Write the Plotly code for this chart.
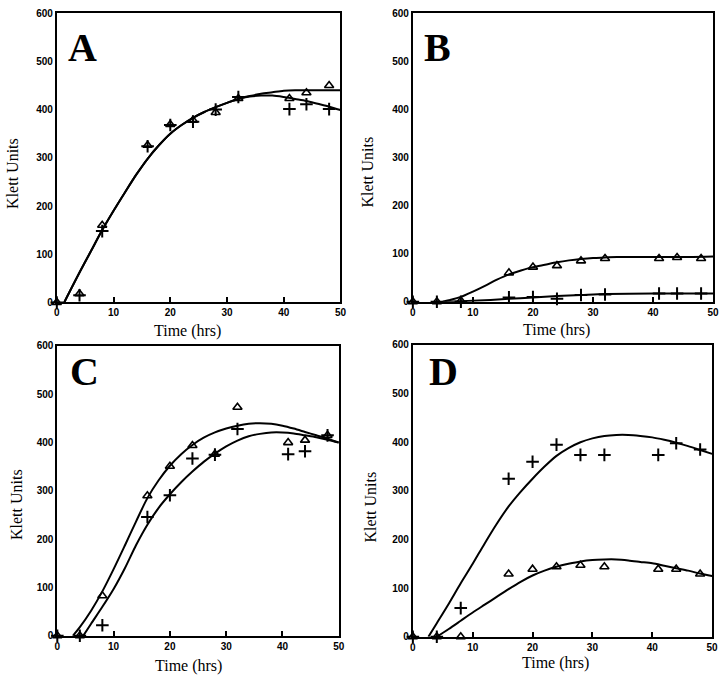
import plotly.graph_objects as go

# ---------------- data ----------------
time_pts = [0, 4, 8, 16, 20, 24, 28, 32, 41, 44, 48]

# Panel A
a_tri = [0, 18, 160, 326, 369, 378, 394, 423, 423, 435, 450]
a_plus = [0, 15, 148, 324, 368, 375, 400, 426, 401, 411, 401]
a_fit_t = [1.3, 4, 6, 8, 10, 12, 14, 16, 18, 20, 22, 24, 26, 28, 30, 32, 34, 36, 38, 40, 42, 44, 46, 48, 50]
a_tri_fit = [0, 62, 106, 150, 190, 228, 265, 298, 326, 350, 368, 383, 395, 405, 414, 422, 428, 433, 436, 439, 440, 440, 440, 440, 440]
a_plus_fit = [0, 62, 106, 150, 190, 228, 265, 298, 326, 350, 368, 383, 395, 405, 414, 422, 427, 429, 429, 426, 422, 418, 412, 406, 399]

# Panel B
b_tri = [0, 0, 2, 60, 72, 75, 85, 90, 90, 92, 90]
b_plus = [0, 0, 0, 9, 10, 6, 14, 15, 17, 17, 17]
b_tri_fit_t = [5, 6, 8, 10, 12, 14, 16, 18, 20, 22, 24, 26, 28, 30, 32, 34, 38, 42, 46, 50]
b_tri_fit = [0, 3, 10, 21, 33, 46, 57, 65, 72, 77, 82, 86, 89, 91, 92, 93, 93, 93, 93, 94]
b_plus_fit_t = [5, 10, 16, 20, 24, 28, 32, 40, 50]
b_plus_fit = [0, 2, 6, 9, 12, 14, 16, 17, 17]

# Panel C
c_tri = [0, 0, 83, 290, 351, 394, 376, 473, 400, 405, 415]
c_plus = [0, 0, 22, 246, 291, 367, 375, 428, 376, 382, 415]
c_tri_fit_t = [2.75, 4, 6, 8, 10, 12, 14, 16, 18, 20, 22, 24, 26, 28, 30, 32, 34, 36, 38, 40, 42, 44, 46, 48, 50]
c_tri_fit = [0, 18, 52, 92, 138, 187, 237, 285, 322, 352, 376, 395, 410, 421, 429, 435, 439, 440, 439, 435, 429, 422, 415, 408, 400]
c_plus_fit_t = [4.6, 6, 8, 10, 12, 14, 16, 18, 20, 22, 24, 26, 28, 30, 32, 34, 36, 38, 40, 42, 44, 46, 48, 50]
c_plus_fit = [0, 25, 60, 97, 140, 188, 230, 265, 293, 318, 340, 360, 377, 392, 404, 413, 418, 421, 421, 419, 415, 411, 406, 400]

# Panel D
d_tri = [0, 0, 0, 129, 139, 144, 147, 144, 139, 139, 129]
d_plus = [0, 0, 59, 325, 360, 395, 374, 374, 374, 398, 385]
d_tri_fit_t = [4, 6, 8, 10, 12, 14, 16, 18, 20, 22, 24, 26, 28, 30, 32, 34, 36, 38, 40, 42, 44, 46, 48, 50]
d_tri_fit = [0, 16, 33, 50, 66, 82, 98, 113, 126, 136, 144, 150, 155, 158, 159, 159, 157, 154, 151, 146, 141, 136, 130, 125]
d_plus_fit_t = [2.6, 4, 6, 8, 10, 12, 14, 16, 18, 20, 22, 24, 26, 28, 30, 32, 34, 36, 38, 40, 42, 44, 46, 48, 50]
d_plus_fit = [0, 28, 68, 110, 150, 192, 232, 268, 298, 325, 350, 372, 388, 400, 408, 413, 415, 415, 413, 410, 405, 399, 392, 384, 376]

x_ticks = [0, 10, 20, 30, 40, 50]
y_ticks = [0, 100, 200, 300, 400, 500, 600]
panel_letters = ["A", "B", "C", "D"]
x_title = "Time (hrs)"
y_title = "Klett Units"

# ---------------- figure ----------------
W, H = 727, 687
fig = go.Figure()

panels = [
    (a_tri, a_plus, a_fit_t, a_tri_fit, a_fit_t, a_plus_fit),
    (b_tri, b_plus, b_tri_fit_t, b_tri_fit, b_plus_fit_t, b_plus_fit),
    (c_tri, c_plus, c_tri_fit_t, c_tri_fit, c_plus_fit_t, c_plus_fit),
    (d_tri, d_plus, d_tri_fit_t, d_tri_fit, d_plus_fit_t, d_plus_fit),
]

# pixel frames (left, top, right, bottom)
frames = [(54.5, 7.3, 341.7, 301.7), (415, 7.3, 719, 301), (55, 346, 340, 641), (415, 345, 718, 642)]

for i, (tri, plus, tft, tfit, pft, pfit) in enumerate(panels):
    n = "" if i == 0 else str(i + 1)
    xa, ya = "x" + n, "y" + n
    fig.add_trace(go.Scatter(x=tft, y=tfit, mode="lines", line=dict(color="black", width=2, shape="spline", smoothing=0.8),
                             xaxis=xa, yaxis=ya, showlegend=False, hoverinfo="skip"))
    fig.add_trace(go.Scatter(x=pft, y=pfit, mode="lines", line=dict(color="black", width=2, shape="spline", smoothing=0.8),
                             xaxis=xa, yaxis=ya, showlegend=False, hoverinfo="skip"))
    fig.add_trace(go.Scatter(x=time_pts, y=tri, mode="markers",
                             marker=dict(symbol="triangle-up-open", size=8, color="black", line=dict(width=1.6, color="black")),
                             xaxis=xa, yaxis=ya, showlegend=False, cliponaxis=False))
    fig.add_trace(go.Scatter(x=time_pts, y=plus, mode="markers",
                             marker=dict(symbol="cross-thin", size=9, color="black", line=dict(width=2, color="black")),
                             xaxis=xa, yaxis=ya, showlegend=False, cliponaxis=False))

    l, t, r, b = frames[i]
    axcommon = dict(showline=True, mirror=True, linecolor="black", linewidth=2, showgrid=False, zeroline=False,
                    tickfont=dict(family="Liberation Sans, Arial", size=10, color="black", weight="bold"))
    fig.layout["xaxis" + n] = dict(domain=[l / W, r / W], range=[0, 50], tickvals=x_ticks, ticks="inside", ticklen=5,
                                   tickwidth=1.5, tickcolor="black", anchor=ya, **axcommon)
    fig.layout["yaxis" + n] = dict(domain=[1 - b / H, 1 - t / H], range=[0, 600], tickvals=y_ticks, ticks="",
                                   anchor=xa, **axcommon)

serif = "Liberation Serif, Times New Roman, serif"
letter_pos = [(80, 42), (440, 42), (83, 372), (446, 372)]
xtitle_pos = [(187, 331), (560, 330), (188, 672), (559, 669)]
ytitle_pos = [(9, 170), (369, 169), (13, 507), (372, 510)]
ann = []
for i in range(4):
    lx, ly = letter_pos[i]
    ann.append(dict(x=lx / W, y=1 - ly / H, xref="paper", yref="paper", text="<b>%s</b>" % panel_letters[i],
                    showarrow=False, font=dict(family=serif, size=40, color="black"), xanchor="center", yanchor="middle"))
    tx, ty = xtitle_pos[i]
    ann.append(dict(x=tx / W, y=1 - ty / H, xref="paper", yref="paper", text=x_title, showarrow=False,
                    font=dict(family=serif, size=16, color="black"), xanchor="center", yanchor="middle"))
    yx, yy = ytitle_pos[i]
    ann.append(dict(x=yx / W, y=1 - yy / H, xref="paper", yref="paper", text=y_title, showarrow=False, textangle=-90,
                    font=dict(family=serif, size=16, color="black"), xanchor="center", yanchor="middle"))

fig.update_layout(width=W, height=H, margin=dict(l=0, r=0, t=0, b=0), paper_bgcolor="white", plot_bgcolor="white",
                  annotations=ann)

fig.write_html("out.html", config={"displayModeBar": False})

# remove the default page margin so the figure fills the window exactly
with open("out.html", "r", encoding="utf-8") as f:
    html = f.read()
html = html.replace("<body>", '<body style="margin:0;padding:0;overflow:hidden">', 1)
with open("out.html", "w", encoding="utf-8") as f:
    f.write(html)
